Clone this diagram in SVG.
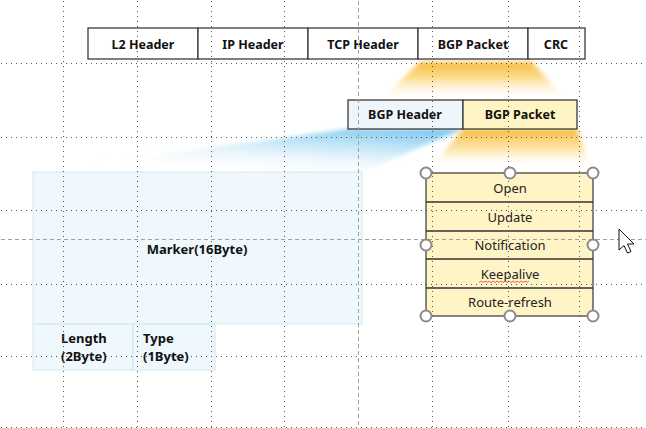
<svg xmlns="http://www.w3.org/2000/svg" width="646" height="428" viewBox="0 0 646 428">
<defs>
<style>
.cell{fill:#ffffff;stroke:#3a3a3a;stroke-width:1.3}
.hdr{font-family:"Noto Sans","Liberation Sans",sans-serif;font-size:12.5px;font-weight:bold;fill:#111;text-anchor:middle;dominant-baseline:central}
.msg{font-family:"Noto Sans","Liberation Sans",sans-serif;font-size:13px;fill:#222;text-anchor:middle;dominant-baseline:central}
.fld{font-family:"Noto Sans","Liberation Sans",sans-serif;font-size:13px;font-weight:bold;fill:#111;dominant-baseline:central}
.dot{stroke:#555;stroke-width:1;stroke-dasharray:1 4;fill:none;shape-rendering:crispEdges}
.dash{stroke:#a0a0a0;stroke-width:1;stroke-dasharray:4 3;fill:none;shape-rendering:crispEdges}
.handle{fill:#ffffff;stroke:#8a8a8a;stroke-width:2}
.light{fill:#eef8fd;stroke:#d4e6ee;stroke-width:1}
</style>
<linearGradient id="gOr1" x1="0" y1="0" x2="0" y2="1">
<stop offset="0" stop-color="#f7b52a" stop-opacity="0.95"/>
<stop offset="0.45" stop-color="#fbd36a" stop-opacity="0.7"/>
<stop offset="1" stop-color="#ffffff" stop-opacity="0"/>
</linearGradient>
<linearGradient id="gOr2" x1="0" y1="0" x2="0" y2="1">
<stop offset="0" stop-color="#f7b52a" stop-opacity="0.95"/>
<stop offset="0.5" stop-color="#fbd36a" stop-opacity="0.5"/>
<stop offset="0.85" stop-color="#ffffff" stop-opacity="0"/>
</linearGradient>
<linearGradient id="gBl" x1="1" y1="0" x2="0.4" y2="1">
<stop offset="0" stop-color="#6fc2ee" stop-opacity="1"/>
<stop offset="0.45" stop-color="#b0ddf5" stop-opacity="0.65"/>
<stop offset="1" stop-color="#ffffff" stop-opacity="0"/>
</linearGradient>
<filter id="soft" x="-20%" y="-50%" width="140%" height="200%">
<feGaussianBlur stdDeviation="2"/>
</filter>
</defs>
<rect width="646" height="428" fill="#ffffff"/>

<g id="connectors">
<polygon points="420,62 532,62 566,100 380,100" fill="url(#gOr1)" filter="url(#soft)"/>
<polygon points="348,129 463,129 362,172 33,172" fill="url(#gBl)" filter="url(#soft)"/>
<polygon points="463,129 577,129 593,173 426,173" fill="url(#gOr2)" filter="url(#soft)"/>
</g>

<g id="frame">
<rect class="cell" x="88" y="28" width="110" height="31"/>
<text class="hdr" x="143" y="44">L2 Header</text>
<rect class="cell" x="198" y="28" width="110" height="31"/>
<text class="hdr" x="253" y="44">IP Header</text>
<rect class="cell" x="308" y="28" width="110" height="31"/>
<text class="hdr" x="363" y="44">TCP Header</text>
<rect class="cell" x="418" y="28" width="110" height="31"/>
<text class="hdr" x="473" y="44">BGP Packet</text>
<rect class="cell" x="528" y="28" width="57" height="31"/>
<text class="hdr" x="556" y="44">CRC</text>
</g>

<g id="bgp">
<rect class="cell" x="348" y="100" width="115" height="29" style="fill:#eef6fc"/>
<text class="hdr" x="405" y="114.5">BGP Header</text>
<rect class="cell" x="463" y="100" width="114" height="29" style="fill:#fff5c4"/>
<text class="hdr" x="520" y="114.5">BGP Packet</text>
</g>

<g id="header-fields">
<rect class="light" x="33" y="172" width="329" height="152"/>
<text class="fld" x="197" y="249" text-anchor="middle">Marker(16Byte)</text>
<rect class="light" x="33" y="324" width="100" height="46"/>
<text class="fld" x="61" y="338">Length</text>
<text class="fld" x="61" y="356">(2Byte)</text>
<rect class="light" x="133" y="324" width="82" height="46"/>
<text class="fld" x="143" y="338">Type</text>
<text class="fld" x="143" y="356">(1Byte)</text>
</g>

<g id="messages">
<rect x="426" y="173" width="167" height="143" fill="#fff4c6" stroke="#444" stroke-width="1.3"/>
<line x1="426" y1="202" x2="593" y2="202" stroke="#333" stroke-width="1.3"/>
<line x1="426" y1="231" x2="593" y2="231" stroke="#333" stroke-width="1.3"/>
<line x1="426" y1="259" x2="593" y2="259" stroke="#333" stroke-width="1.3"/>
<line x1="426" y1="288" x2="593" y2="288" stroke="#333" stroke-width="1.3"/>
<text class="msg" x="510" y="188">Open</text>
<text class="msg" x="510" y="217">Update</text>
<text class="msg" x="510" y="245">Notification</text>
<text class="msg" x="510" y="274">Keepalive</text>
<path d="M479,282.5 l2,-1.5 2,1.5 2,-1.5 2,1.5 2,-1.5 2,1.5 2,-1.5 2,1.5 2,-1.5 2,1.5 2,-1.5 2,1.5 2,-1.5 2,1.5 2,-1.5 2,1.5 2,-1.5 2,1.5 2,-1.5 2,1.5 2,-1.5 2,1.5 2,-1.5 2,1.5 2,-1.5" fill="none" stroke="#e04040" stroke-width="0.8"/>
<text class="msg" x="510" y="302">Route-refresh</text>
</g>

<g id="grid" transform="translate(0.5,0.5)">
<line class="dot" x1="0" y1="63" x2="646" y2="63"/>
<line class="dot" x1="0" y1="137" x2="646" y2="137"/>
<line class="dot" x1="0" y1="210" x2="646" y2="210"/>
<line class="dot" x1="0" y1="284" x2="646" y2="284"/>
<line class="dot" x1="0" y1="356" x2="646" y2="356"/>
<line class="dot" x1="0" y1="427" x2="646" y2="427"/>
<line class="dot" x1="63" y1="0" x2="63" y2="428"/>
<line class="dot" x1="137" y1="0" x2="137" y2="428"/>
<line class="dot" x1="211" y1="0" x2="211" y2="428"/>
<line class="dot" x1="284" y1="0" x2="284" y2="428"/>
<line class="dot" x1="432" y1="0" x2="432" y2="428"/>
<line class="dot" x1="508" y1="0" x2="508" y2="428"/>
<line class="dot" x1="579" y1="0" x2="579" y2="428"/>
<line class="dash" x1="358" y1="0" x2="358" y2="428"/>
<line class="dash" x1="0" y1="239" x2="646" y2="239"/>
</g>

<g id="handles">
<circle class="handle" cx="426" cy="173" r="5.5"/>
<circle class="handle" cx="510" cy="173" r="5.5"/>
<circle class="handle" cx="593" cy="173" r="5.5"/>
<circle class="handle" cx="426" cy="245" r="5.5"/>
<circle class="handle" cx="593" cy="245" r="5.5"/>
<circle class="handle" cx="426" cy="316" r="5.5"/>
<circle class="handle" cx="510" cy="316" r="5.5"/>
<circle class="handle" cx="593" cy="316" r="5.5"/>
</g>

<g id="cursor">
<polygon points="619,229 619,250 624,245.5 627.5,253 631,251.5 627.5,244 634,244" fill="#ffffff" stroke="#111" stroke-width="1" stroke-linejoin="round"/>
</g>
</svg>
